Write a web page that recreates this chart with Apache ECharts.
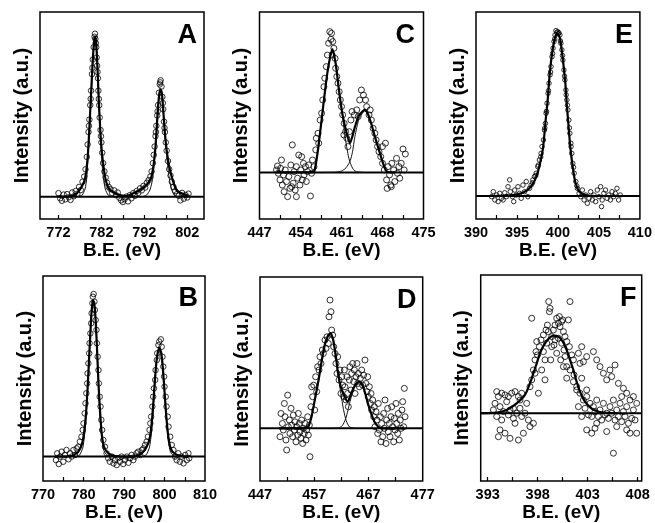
<!DOCTYPE html>
<html><head><meta charset="utf-8">
<script src="https://cdn.jsdelivr.net/npm/echarts@6/dist/echarts.min.js"></script>
<style>html,body{margin:0;padding:0;background:#fff}#c{width:655px;height:523px}</style>
</head><body><div id="c"></div>
<script>
// ---------------- Panel A ----------------
const aLabels = [772, 782, 792, 802];
const aTicks = [772, 777, 782, 787, 792, 797, 802];
const aBaseline = 10.8;
const aPoints = [[772.0,12.5],[772.4,10.0],[772.8,8.8],[773.2,11.8],[773.6,9.5],[774.0,12.0],[774.4,10.5],[774.8,9.2],[775.2,12.8],[775.6,11.0],[776.0,13.5],[776.4,12.2],[776.8,15.5],[777.2,14.0],[777.6,18.0],[778.0,20.5],[778.3,24],[778.6,30],[778.8,36],[779.0,42],[779.2,48],[779.4,55],[779.6,62],[779.8,70],[780.0,77],[780.2,83],[780.4,88],[780.5,89.5],[780.6,87],[780.8,83],[780.9,78],[781.0,74],[781.2,68],[781.3,62],[781.5,55],[781.6,49],[781.8,43],[782.0,37],[782.2,32],[782.4,27],[782.7,23],[783.0,20],[783.3,17.5],[783.7,15.5],[784.1,14.5],[784.5,12.5],[785.0,13.8],[785.4,11.5],[785.8,12.8],[786.2,10.2],[786.6,9.0],[787.0,8.2],[787.4,9.5],[787.8,10.8],[788.2,8.5],[788.6,11.5],[789.0,10.0],[789.4,12.5],[789.8,11.2],[790.2,13.5],[790.6,12.6],[791.0,14.8],[791.4,13.8],[791.8,16.0],[792.2,15.2],[792.6,17.5],[793.0,18.8],[793.4,20.5],[793.7,23],[794.0,27],[794.2,31],[794.4,35],[794.6,40],[794.8,45],[795.0,50],[795.2,55],[795.4,61],[795.6,65],[795.8,67],[796.0,64],[796.2,59],[796.4,53],[796.6,47],[796.8,42],[797.0,37],[797.2,33],[797.5,28],[797.8,24],[798.1,21],[798.4,18],[798.8,15.5],[799.2,13.5],[799.6,12.0],[800.0,11.2],[800.4,9.0],[800.8,12.6],[801.2,9.8],[801.6,11.6],[802.0,10.4],[802.3,12.2],[779.1,45],[779.5,58],[779.9,73],[780.7,85],[781.1,71],[781.4,58],[781.9,40],[794.7,42],[795.1,52],[795.7,66],[796.3,56],[796.7,44]];
const aFit = [[772,10.8],[775.1,11.1],[776.3,12.4],[777.4,15.6],[778.2,19.6],[778.75,28.5],[779.06,38.2],[779.37,51.0],[779.68,63.9],[779.99,76.8],[780.3,85.7],[780.5,88.1],[780.77,85.7],[781.08,73.6],[781.39,57.5],[781.7,44.6],[782.0,34.9],[782.5,25.3],[783.1,18.0],[784.0,14.0],[785.2,12.4],[786.3,11.6],[787.9,11.1],[789.4,12.4],[791.0,14.0],[792.5,16.4],[793.5,19.6],[794.1,25.3],[794.6,34.9],[794.9,44.6],[795.2,54.3],[795.5,60.7],[795.8,62.6],[796.1,60.7],[796.4,52.7],[796.8,41.4],[797.2,33.3],[797.8,25.3],[798.6,18.8],[799.5,14.0],[800.7,12.4],[802.2,11.1]];
const aPeak1 = [[776.5,10.8],[777.5,11.5],[778.2,14.5],[778.6,20],[779.0,34],[779.37,49],[779.68,62],[779.99,75],[780.3,84.5],[780.5,87],[780.77,84.5],[781.08,72],[781.39,56],[781.7,42],[782.0,31],[782.4,21],[782.9,14.5],[783.6,11.5],[784.5,10.8]];
const aPeak2 = [[791.5,10.8],[792.5,11.5],[793.3,14],[793.9,19],[794.3,27],[794.6,34],[794.9,43.5],[795.2,53],[795.5,59.5],[795.8,61.5],[796.1,59.5],[796.4,52],[796.8,41],[797.2,31],[797.7,21],[798.3,14.5],[799.0,11.5],[800,10.8]];

// ---------------- Panel B ----------------
const bLabels = [770, 780, 790, 800, 810];
const bTicks = [775, 780, 785, 790, 795, 800, 805];
const bBaseline = 11.9;
const bPoints = [[773.2,10.2],[773.5,13.5],[773.9,8.3],[774.2,11.9],[774.6,14.3],[775.0,9.4],[775.4,12.7],[775.8,15.1],[776.3,10.6],[776.7,13.5],[777.1,11.9],[777.5,15.1],[777.9,12.7],[778.3,15.9],[778.7,16.7],[779.1,19.2],[779.5,21.6],[779.8,24.9],[780.0,28.1],[780.3,33.0],[780.5,37.9],[780.7,42.8],[780.9,47.6],[781.0,52.5],[781.2,57.4],[781.4,62.3],[781.5,67.2],[781.7,72.0],[781.9,76.9],[782.0,81.8],[782.2,86.7],[782.3,89.9],[782.5,91.2],[782.7,87.5],[782.8,83.4],[783.0,78.5],[783.2,73.7],[783.3,67.2],[783.5,60.6],[783.7,54.1],[783.8,47.6],[784.0,41.1],[784.2,36.3],[784.4,29.8],[784.6,24.9],[784.9,20.0],[785.3,16.7],[785.7,13.5],[786.1,11.1],[786.5,9.4],[787.0,11.9],[787.4,8.6],[787.8,10.2],[788.2,7.8],[788.6,11.1],[789.0,9.4],[789.4,11.9],[789.8,8.3],[790.2,10.2],[790.7,11.9],[791.1,8.9],[791.5,11.1],[791.9,12.7],[792.3,10.2],[792.7,11.9],[793.1,13.5],[793.5,14.3],[794.0,12.7],[794.4,15.1],[794.8,15.9],[795.2,17.6],[795.6,19.2],[795.9,21.6],[796.3,24.9],[796.5,28.1],[796.7,31.4],[797.0,36.3],[797.2,41.1],[797.4,45.2],[797.7,49.3],[797.8,54.1],[798.1,59.0],[798.2,62.3],[798.5,66.3],[798.7,68.0],[799.1,69.1],[799.3,65.5],[799.5,60.6],[799.7,55.8],[799.9,50.9],[800.0,46.0],[800.3,41.1],[800.5,36.3],[800.8,31.4],[801.0,26.5],[801.4,21.6],[801.8,17.6],[802.2,15.1],[802.6,11.9],[803.0,10.2],[803.4,13.5],[803.8,9.4],[804.2,11.9],[804.7,8.6],[805.1,12.7],[805.5,10.2],[805.9,13.5],[806.1,11.1]];
const bFit = [[772.96,11.9],[777.08,12.2],[778.72,14.3],[779.55,17.6],[780.12,23.2],[780.62,33.0],[781.03,46.0],[781.36,59.0],[781.69,72.0],[782.02,83.4],[782.35,88.3],[782.76,85.0],[783.09,75.3],[783.42,60.6],[783.74,46.0],[784.07,34.6],[784.49,23.2],[785.06,16.7],[786.13,13.5],[787.78,12.2],[790.66,11.9],[793.13,12.2],[794.36,13.5],[795.60,16.7],[796.42,21.6],[796.91,29.8],[797.41,42.8],[797.82,54.1],[798.23,61.5],[798.72,65.2],[799.22,62.3],[799.63,54.1],[800.04,42.8],[800.45,31.4],[800.95,21.6],[801.52,15.9],[802.59,13.2],[804.24,12.2],[805.88,11.9]];
const bPeak1 = [[778.0,11.9],[779.0,12.6],[779.8,16],[780.3,23],[780.7,33],[781.03,45.5],[781.36,58.5],[781.69,71.5],[782.02,83],[782.35,88],[782.76,84.5],[783.09,74.5],[783.42,59.5],[783.74,44.5],[784.07,32],[784.5,21],[785.0,15],[785.8,12.6],[787,11.9]];
const bPeak2 = [[794.5,11.9],[795.5,12.8],[796.3,16.5],[796.8,24],[797.2,34],[797.6,47],[797.95,56.5],[798.23,61],[798.72,64.8],[799.22,61.8],[799.63,53.5],[800.04,42],[800.45,30],[800.95,19.5],[801.5,14],[802.3,12.3],[803.5,11.9]];

// ---------------- Panel C ----------------
const cLabels = [447, 454, 461, 468, 475];
const cTicks = [450.5, 454, 457.5, 461, 464.5, 468, 471.5];
const cBaseline = 22.5;
const cPoints = [[450.07,25.6],[450.2,22.1],[450.5,18.9],[450.6,24.5],[450.9,16.4],[451.1,21.3],[451.2,13.2],[451.4,23.7],[451.6,18.1],[451.8,10.8],[452.0,20.5],[452.2,14.8],[452.35,26.1],[452.6,35.8],[452.75,17.3],[452.9,22.9],[453.1,14.0],[453.3,25.3],[453.5,19.7],[453.7,30.9],[453.9,16.4],[454.05,23.7],[454.3,18.9],[454.5,26.9],[454.6,21.3],[454.85,25.3],[455.0,18.1],[455.2,22.9],[455.4,26.1],[455.7,11.1],[455.9,22.1],[456.05,28.5],[456.3,25.3],[450.75,28.5],[449.9,23.7],[454.2,30.1],[453.3,10.8],[452.5,15.6],[456.6,33.4],[456.7,39.0],[457.0,41.4],[457.1,36.6],[457.35,47.8],[457.6,51.1],[457.8,57.5],[458.0,63.9],[458.15,68.0],[458.4,73.6],[458.6,79.2],[458.8,84.9],[459.0,90.5],[459.3,89.7],[459.2,86.8],[459.5,85.7],[459.7,82.5],[459.4,79.2],[459.9,77.6],[460.0,72.8],[460.2,68.8],[460.4,65.6],[460.6,61.5],[460.8,57.5],[461.0,54.3],[461.2,50.3],[461.45,46.2],[461.7,42.2],[461.9,39.0],[462.1,35.0],[461.4,40.6],[462.35,42.2],[462.6,47.8],[462.8,51.9],[463.2,50.3],[463.6,52.7],[463.85,49.5],[464.1,57.5],[464.4,62.3],[464.75,59.9],[465.1,57.5],[465.3,54.3],[465.7,50.3],[465.9,52.7],[466.1,47.8],[466.4,43.8],[466.7,41.4],[466.9,38.2],[467.15,35.0],[467.4,32.5],[467.7,30.1],[468.0,26.9],[468.3,23.7],[468.0,35.0],[468.5,36.6],[468.7,18.9],[468.95,25.3],[469.2,21.3],[469.4,16.4],[469.6,26.9],[469.9,23.7],[470.1,18.1],[470.4,29.3],[470.55,22.1],[470.8,25.3],[470.95,19.7],[471.2,26.9],[471.5,33.8],[471.7,23.7],[471.9,31.4],[469.5,15.6],[468.8,14.8]];
const cFit = [[449.9,22.5],[456.2,22.6],[456.5,24.5],[457.05,34.9],[457.6,47.8],[458.2,62.3],[458.75,73.6],[459.43,82.1],[460.0,75.2],[460.57,62.3],[461.14,51.0],[461.88,41.4],[462.45,36.6],[462.85,39.8],[463.3,44.6],[464.0,50.2],[465.0,52.7],[465.6,50.2],[466.15,45.4],[466.7,39.8],[467.4,33.3],[468.1,26.9],[468.7,22.9],[470.1,22.5]];
const cPeak1 = [[453,22.5],[455.5,22.6],[456.2,23.5],[456.5,25],[457.05,34.5],[457.6,47.5],[458.2,62],[458.75,73.3],[459.43,81.8],[460.0,75],[460.57,62],[461.14,50],[461.7,38],[462.2,30],[462.5,27],[463.0,24],[463.6,22.8],[465,22.5]];
const cPeak2 = [[458,22.5],[460,22.6],[461.0,23.2],[461.7,24.5],[462.2,26.5],[462.5,28.2],[462.85,32],[463.3,40],[464.0,48.5],[465.0,52.3],[465.6,49.8],[466.15,45],[466.7,39.5],[467.4,33],[468.1,26.7],[468.7,22.8],[470,22.5]];

// ---------------- Panel D ----------------
const dLabels = [447, 457, 467, 477];
const dTicks = [452, 457, 462, 467, 472];
const dBaseline = 25.8;
const dPoints = [[450.69,21.7],[450.87,33.1],[451.12,28.2],[451.30,25.0],[451.49,38.0],[451.61,31.5],[451.79,20.1],[451.92,15.2],[452.10,42.1],[452.22,26.6],[452.41,29.9],[452.53,23.3],[452.72,35.6],[452.84,27.4],[453.02,21.7],[453.15,32.3],[453.33,25.0],[453.45,29.0],[453.64,19.2],[453.76,26.6],[453.94,22.5],[454.07,33.1],[454.25,28.2],[454.38,24.1],[454.56,20.9],[454.68,29.9],[454.87,18.4],[454.99,25.8],[455.17,23.3],[455.30,28.2],[455.48,20.1],[455.60,25.0],[455.79,31.5],[455.91,22.5],[456.10,27.4],[456.22,11.9],[456.40,36.4],[456.53,46.2],[456.71,41.3],[456.90,47.0],[457.08,34.8],[457.26,51.1],[457.45,43.8],[457.63,56.0],[457.88,54.4],[458.06,60.9],[458.25,57.6],[458.49,64.2],[458.68,62.5],[458.98,69.1],[459.17,65.0],[459.35,70.7],[459.60,67.4],[459.72,80.5],[459.91,88.7],[460.09,83.0],[460.21,74.0],[460.40,71.5],[460.58,65.8],[460.83,62.5],[461.01,57.6],[461.20,52.7],[461.32,60.9],[461.57,49.5],[461.75,54.4],[461.93,42.9],[462.06,51.1],[462.24,47.0],[462.43,41.3],[462.55,54.4],[462.67,46.2],[462.86,39.7],[463.04,51.1],[463.16,42.9],[463.29,36.4],[463.47,49.5],[463.59,56.0],[463.78,44.6],[463.90,52.7],[464.09,57.6],[464.27,48.7],[464.39,54.4],[464.52,42.9],[464.70,51.1],[464.88,57.6],[465.01,47.8],[465.13,52.7],[465.32,46.2],[465.50,50.3],[465.75,54.4],[465.93,47.0],[466.11,51.9],[466.36,59.3],[466.54,47.8],[466.73,43.8],[466.85,51.1],[466.97,41.3],[467.16,46.2],[467.34,38.0],[467.47,42.9],[467.59,34.8],[467.77,39.7],[467.96,31.5],[468.08,36.4],[468.20,26.6],[468.39,34.0],[468.57,29.9],[468.70,23.3],[468.82,38.0],[469.00,25.0],[469.19,31.5],[469.31,19.2],[469.43,28.2],[469.62,21.7],[469.80,33.1],[469.92,25.8],[470.05,39.7],[470.23,18.4],[470.35,29.9],[470.54,35.6],[470.66,24.1],[470.85,28.2],[470.97,21.7],[471.15,31.5],[471.28,36.4],[471.46,26.6],[471.65,19.2],[471.77,30.7],[471.89,25.0],[472.08,38.0],[472.20,28.2],[472.38,23.3],[472.51,33.1],[472.69,20.1],[472.87,29.9],[473.00,25.8],[473.18,34.8],[473.31,38.9],[473.49,26.6],[473.61,45.4],[473.74,31.5]];
const dFit = [[450.5,25.8],[455.3,25.8],[455.9,26.6],[456.5,31.5],[457.1,39.7],[457.8,49.5],[458.4,59.3],[459.0,67.4],[459.6,71.5],[460.0,72.4],[460.5,69.1],[461.0,60.9],[461.4,52.7],[461.9,46.2],[462.6,41.3],[463.2,38.9],[463.6,41.3],[464.2,45.4],[464.8,47.8],[465.4,48.7],[465.9,47.0],[466.4,43.0],[466.9,38.0],[467.5,33.1],[468.1,29.0],[468.8,26.6],[469.4,25.8],[473.5,25.8]];
const dPeak1 = [[453,25.8],[455.3,25.9],[455.9,26.8],[456.5,31.3],[457.1,39.5],[457.8,49.3],[458.4,59],[459.0,67.2],[459.6,71.3],[460.0,72.2],[460.5,68.9],[461.0,60.5],[461.4,52],[461.9,43],[462.4,35],[462.9,29.5],[463.5,26.5],[464.5,25.8]];
const dPeak2 = [[460.5,25.8],[461.5,26.0],[462.2,27.2],[462.8,30.5],[463.2,34.5],[463.6,39],[464.2,44.5],[464.8,47.5],[465.4,48.5],[465.9,46.8],[466.4,42.8],[466.9,37.8],[467.5,32.9],[468.1,28.8],[468.8,26.4],[469.4,25.8],[471,25.8]];

// ---------------- Panel E ----------------
const eLabels = [390, 395, 400, 405, 410];
const eTicks = [392.5, 395, 397.5, 400, 402.5, 405, 407.5];
const eBaseline = 11.1;
const ePoints = [[391.9,10.8],[392.1,13.2],[392.3,9.2],[392.5,11.6],[392.7,8.4],[392.9,12.4],[393.1,10.0],[393.31,9.2],[393.51,12.7],[393.71,10.8],[393.91,15.6],[394.11,18.9],[394.19,13.2],[394.44,10.8],[394.6,8.4],[394.72,14.0],[394.92,11.6],[395.12,15.6],[395.32,12.4],[395.52,10.0],[395.73,16.4],[395.93,13.2],[396.13,18.1],[396.33,10.8],[396.53,14.8],[396.73,16.4],[396.94,18.9],[397.14,20.5],[397.34,22.1],[397.54,25.3],[397.74,28.5],[397.94,31.7],[398.06,35.0],[398.23,38.2],[398.35,43.0],[398.47,46.2],[398.55,51.1],[398.67,55.9],[398.79,60.7],[398.91,65.6],[399.03,69.6],[399.15,73.6],[399.27,78.4],[399.4,82.5],[399.52,85.7],[399.64,88.9],[399.76,91.0],[399.96,90.5],[400.12,90.0],[400.24,88.9],[400.36,84.9],[400.48,81.7],[400.6,76.8],[400.73,72.0],[400.85,67.2],[400.97,62.3],[401.09,57.5],[401.21,52.7],[401.33,47.8],[401.45,41.4],[401.57,36.6],[401.69,31.7],[401.81,26.9],[401.98,22.1],[402.18,18.1],[402.38,14.8],[402.58,12.4],[402.78,10.8],[402.98,14.0],[403.19,9.2],[403.39,11.6],[403.59,7.6],[403.79,10.0],[403.99,13.2],[404.19,9.2],[404.4,11.6],[404.6,8.4],[404.8,14.0],[405.0,10.8],[405.2,15.6],[405.32,6.0],[405.4,9.2],[405.6,12.4],[405.8,14.0],[406.0,10.0],[406.2,11.6],[406.4,9.2],[406.6,13.2],[406.8,10.8],[407.0,12.4],[407.2,14.8],[407.4,9.2],[407.6,11.6],[398.4,44],[398.6,52],[398.85,62],[399.1,71],[399.35,80],[399.6,87],[399.85,90],[400.05,89.5],[400.3,86],[400.55,79],[400.8,69],[401.0,60],[401.15,55],[401.4,44],[401.6,35],[401.9,25],[397.6,26],[397.9,30],[402.3,16],[396.9,17.5],[397.3,21]];
const eFit = [[391.9,11.1],[394.5,11.6],[395.7,12.7],[396.5,14.8],[397.1,18.1],[397.5,22.1],[397.9,28.5],[398.2,35.0],[398.5,47.8],[398.75,57.5],[399.0,70.4],[399.35,81.7],[399.7,88.4],[399.96,89.7],[400.24,87.3],[400.56,78.4],[400.9,65.6],[401.1,54.3],[401.3,44.6],[401.5,35.0],[401.8,25.3],[402.1,18.1],[402.6,13.2],[403.4,11.6],[404.6,11.1],[408,11.1]];

// ---------------- Panel F ----------------
const fLabels = [393, 398, 403, 408];
const fTicks = [393, 395.5, 398, 400.5, 403, 405.5, 408];
const fBaseline = 32.9;
const fPoints = [[393.9,43.4],[394.07,41.0],[394.4,42.6],[394.73,41.8],[395.07,41.0],[395.4,42.6],[395.73,43.4],[396.07,41.0],[396.4,42.6],[393.73,37.7],[394.23,36.1],[394.9,38.5],[395.57,35.3],[396.23,39.3],[396.9,37.7],[393.9,31.3],[394.4,29.6],[395.07,32.1],[395.73,28.0],[396.4,31.3],[397.07,29.6],[394.23,24.8],[394.07,21.5],[394.73,23.2],[395.23,20.7],[396.07,19.9],[395.57,30.4],[396.73,32.9],[397.23,26.4],[394.57,33.7],[395.9,32.9],[396.57,23.2],[397.57,28.0],[393.57,34.5],[395.23,34.5],[396.23,35.3],[397.23,45.8],[397.4,49.1],[397.57,53.9],[397.73,58.8],[397.83,62.8],[397.97,61.2],[398.17,65.2],[398.33,68.5],[398.57,62.8],[398.73,58.8],[398.9,66.9],[399.07,72.5],[398.97,75.7],[399.17,82.2],[399.23,83.8],[399.1,87.1],[397.4,79.0],[398.07,42.6],[398.4,53.9],[398.73,49.1],[399.4,65.2],[399.3,58.8],[397.73,52.3],[397.9,67.7],[398.57,70.9],[398.83,73.3],[399.57,73.3],[399.73,75.7],[399.9,79.0],[400.07,76.6],[400.23,74.9],[400.4,77.4],[400.57,72.5],[400.73,70.1],[400.9,67.7],[400.17,79.8],[400.5,78.2],[401.23,87.1],[401.07,78.2],[399.63,66.0],[399.9,62.0],[400.3,58.8],[400.63,63.6],[400.9,55.5],[400.07,69.3],[400.4,66.9],[400.73,60.4],[401.17,65.2],[401.4,61.2],[399.4,70.1],[399.73,68.5],[400.57,55.5],[401.9,44.2],[401.23,53.9],[401.57,58.8],[400.9,49.9],[401.63,51.5],[402.07,62.0],[402.4,65.2],[402.23,57.1],[402.57,57.9],[402.9,60.4],[403.57,62.8],[403.9,58.8],[404.23,55.5],[404.57,52.3],[405.23,53.9],[405.73,56.3],[406.07,47.4],[406.57,45.0],[404.9,49.1],[405.4,50.7],[401.57,48.2],[401.9,45.8],[402.23,42.6],[402.57,39.3],[402.9,41.0],[403.23,37.7],[403.57,36.1],[403.9,39.3],[404.23,34.5],[404.57,37.7],[404.9,32.9],[405.23,36.1],[405.57,39.3],[405.9,34.5],[406.23,37.7],[406.57,33.7],[406.9,36.1],[407.23,39.3],[407.57,34.5],[407.9,37.7],[402.73,35.3],[403.07,32.1],[403.4,31.3],[403.73,33.7],[404.07,31.3],[404.4,29.6],[404.73,32.1],[405.07,30.4],[405.4,32.9],[405.73,29.6],[406.07,31.3],[406.4,28.8],[406.73,31.3],[407.07,28.0],[407.4,30.4],[407.73,29.6],[402.9,24.8],[403.4,23.2],[403.73,25.6],[404.9,24.0],[405.9,26.4],[406.9,24.8],[407.23,23.2],[407.9,23.2],[405.57,13.5],[402.9,44.2],[402.4,49.9],[402.07,36.1],[402.4,31.3],[403.9,28.0],[407.57,41.0],[406.4,41.0],[406.9,42.6]];
const fFit = [[392.3,32.9],[393.9,33.2],[394.9,34.5],[395.9,37.7],[396.73,41.8],[397.23,47.4],[397.57,52.3],[397.9,57.1],[398.23,62.0],[398.63,66.0],[399.07,69.0],[399.57,70.6],[400.07,70.1],[400.5,67.7],[400.9,63.6],[401.23,58.8],[401.57,53.9],[401.9,48.2],[402.23,43.4],[402.63,39.3],[403.17,36.1],[403.73,34.2],[404.57,33.2],[405.9,32.9]];

const xTitle = 'B.E. (eV)';
const yTitle = 'Intensity (a.u.)';

// ---------- layout ----------
const FONT = '"Liberation Sans", Arial, Helvetica, sans-serif';
const panels = [
  {tag:'A', grid:{left:40, top:12, width:164, height:207}, xMin:767.7, xMax:805.9, labels:aLabels, ticks:aTicks, base:aBaseline, pts:aPoints, fit:aFit, comps:[aPeak1,aPeak2], sym:5.5, tagPos:[197,36]},
  {tag:'C', grid:{left:259.5, top:12, width:164, height:207}, xMin:447, xMax:475, labels:cLabels, ticks:cTicks, base:cBaseline, pts:cPoints, fit:cFit, comps:[cPeak1,cPeak2], sym:6, tagPos:[415,36]},
  {tag:'E', grid:{left:476, top:12, width:165.5, height:207}, xMin:390, xMax:410, labels:eLabels, ticks:eTicks, base:eBaseline, pts:ePoints, fit:eFit, comps:[], sym:4.5, tagPos:[633,35.5]},
  {tag:'B', grid:{left:43, top:276, width:162, height:205}, xMin:770, xMax:810, labels:bLabels, ticks:bTicks, base:bBaseline, pts:bPoints, fit:bFit, comps:[bPeak1,bPeak2], sym:5.5, tagPos:[198,299]},
  {tag:'D', grid:{left:260, top:277, width:162.7, height:204}, xMin:447, xMax:477, labels:dLabels, ticks:dTicks, base:dBaseline, pts:dPoints, fit:dFit, comps:[dPeak1,dPeak2], sym:6, tagPos:[416.5,300.5]},
  {tag:'F', grid:{left:480.7, top:275, width:161, height:206}, xMin:392.3, xMax:408.4, labels:fLabels, ticks:fTicks, base:fBaseline, pts:fPoints, fit:fFit, comps:[], sym:6, tagPos:[636.5,299]}
];

const grids = [], xAxes = [], yAxes = [], series = [], graphics = [];
panels.forEach((p, i) => {
  grids.push(Object.assign({show:true, borderColor:'#000', borderWidth:1.5, backgroundColor:'transparent'}, p.grid));
  xAxes.push({
    type:'value', gridIndex:i, min:p.xMin, max:p.xMax,
    axisLine:{show:false},
    axisTick:{show:true, inside:true, length:4, lineStyle:{color:'#000', width:1.2}, customValues:p.ticks},
    axisLabel:{show:true, margin:6, customValues:p.labels, color:'#000', fontFamily:FONT, fontWeight:'bold', fontSize:14.5,
               formatter:v => String(Math.round(v))},
    splitLine:{show:false},
    name:xTitle, nameLocation:'middle', nameGap:21,
    nameTextStyle:{color:'#000', fontFamily:FONT, fontWeight:'bold', fontSize:19}
  });
  yAxes.push({
    type:'value', gridIndex:i, min:0, max:100,
    axisLine:{show:false}, axisTick:{show:false}, axisLabel:{show:false}, splitLine:{show:false},
    name:yTitle, nameLocation:'middle', nameGap:8, nameRotate:90,
    nameTextStyle:{color:'#000', fontFamily:FONT, fontWeight:'bold', fontSize:20}
  });
  series.push({type:'scatter', xAxisIndex:i, yAxisIndex:i, data:p.pts, symbol:'circle', symbolSize:p.sym,
    itemStyle:{color:'rgba(255,255,255,0)', borderColor:'#000', borderWidth:1}, z:2, silent:true});
  series.push({type:'line', xAxisIndex:i, yAxisIndex:i, data:[[p.xMin,p.base],[p.xMax,p.base]], symbol:'none',
    lineStyle:{color:'#000', width:2}, z:3, silent:true});
  p.comps.forEach(c => series.push({type:'line', xAxisIndex:i, yAxisIndex:i, data:c, symbol:'none', smooth:0.2,
    lineStyle:{color:'#111', width:1}, z:4, silent:true}));
  series.push({type:'line', xAxisIndex:i, yAxisIndex:i, data:p.fit, symbol:'none', smooth:0.2,
    lineStyle:{color:'#000', width:2.2}, z:5, silent:true});
  graphics.push({type:'text', x:p.tagPos[0], y:p.tagPos[1], z:10,
    style:{text:p.tag, textAlign:'right', textVerticalAlign:'middle', fill:'#000',
           font:'bold 27px ' + FONT}});
});

const chart = echarts.init(document.getElementById('c'), null, {renderer:'canvas'});
chart.setOption({animation:false, backgroundColor:'#fff', grid:grids, xAxis:xAxes, yAxis:yAxes, series:series, graphic:graphics});
</script></body></html>
